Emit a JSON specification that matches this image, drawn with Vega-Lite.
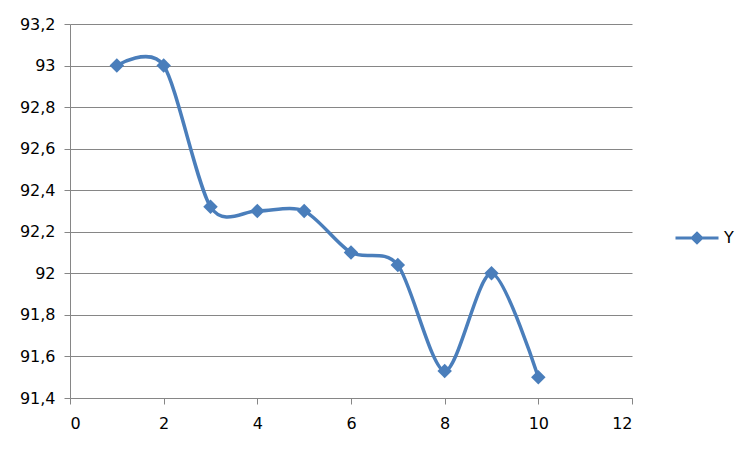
{
  "$schema": "https://vega.github.io/schema/vega-lite/v6.json",
  "width": 562,
  "height": 374,
  "autosize": {"type": "none"},
  "padding": {"left": 70, "top": 24, "right": 120, "bottom": 54},
  "background": "white",
  "config": {
    "locale": {"number": {"decimal": ",", "thousands": " ", "grouping": [3], "currency": ["", ""]}},
    "view": {"stroke": null},
    "font": "DejaVu Sans",
    "axis": {
      "labelFont": "DejaVu Sans",
      "labelFontSize": 16,
      "labelColor": "#000000",
      "domainColor": "#868686",
      "tickColor": "#868686",
      "gridColor": "#868686",
      "gridOpacity": 1,
      "title": null
    }
  },
  "data": {
    "values": [
      {"x": 1, "y": 93.0, "series": "Y"},
      {"x": 2, "y": 93.0, "series": "Y"},
      {"x": 3, "y": 92.32, "series": "Y"},
      {"x": 4, "y": 92.3, "series": "Y"},
      {"x": 5, "y": 92.3, "series": "Y"},
      {"x": 6, "y": 92.1, "series": "Y"},
      {"x": 7, "y": 92.04, "series": "Y"},
      {"x": 8, "y": 91.53, "series": "Y"},
      {"x": 9, "y": 92.0, "series": "Y"},
      {"x": 10, "y": 91.5, "series": "Y"}
    ]
  },
  "encoding": {
    "x": {
      "field": "x", "type": "quantitative",
      "scale": {"domain": [0, 12], "nice": false},
      "axis": {"values": [0, 2, 4, 6, 8, 10, 12], "grid": false, "tickSize": 6, "labelPadding": 11, "format": "~g"}
    },
    "y": {
      "field": "y", "type": "quantitative",
      "scale": {"domain": [91.4, 93.2], "nice": false, "zero": false},
      "axis": {"values": [91.4, 91.6, 91.8, 92.0, 92.2, 92.4, 92.6, 92.8, 93.0, 93.2], "grid": true, "tickSize": 6, "labelPadding": 9, "format": ".1~f"}
    },
    "color": {
      "field": "series", "type": "nominal",
      "scale": {"range": ["#4A7EBB"]},
      "legend": {
        "title": null,
        "orient": "none",
        "legendX": 604,
        "legendY": 191,
        "symbolType": "M-1,0L1,0M0,-0.22L0.22,0L0,0.22L-0.22,0Z",
        "symbolSize": 1849,
        "symbolStrokeWidth": 3,
        "symbolFillColor": "#4A7EBB",
        "symbolStrokeColor": "#4A7EBB",
        "labelFontSize": 16,
        "labelFont": "DejaVu Sans",
        "labelColor": "#000000",
        "labelOffset": 4
      }
    }
  },
  "layer": [
    {"mark": {"type": "line", "interpolate": "cardinal", "tension": 0.15, "strokeWidth": 3.5}},
    {"mark": {"type": "point", "shape": "diamond", "filled": true, "size": 210, "opacity": 1}}
  ]
}
